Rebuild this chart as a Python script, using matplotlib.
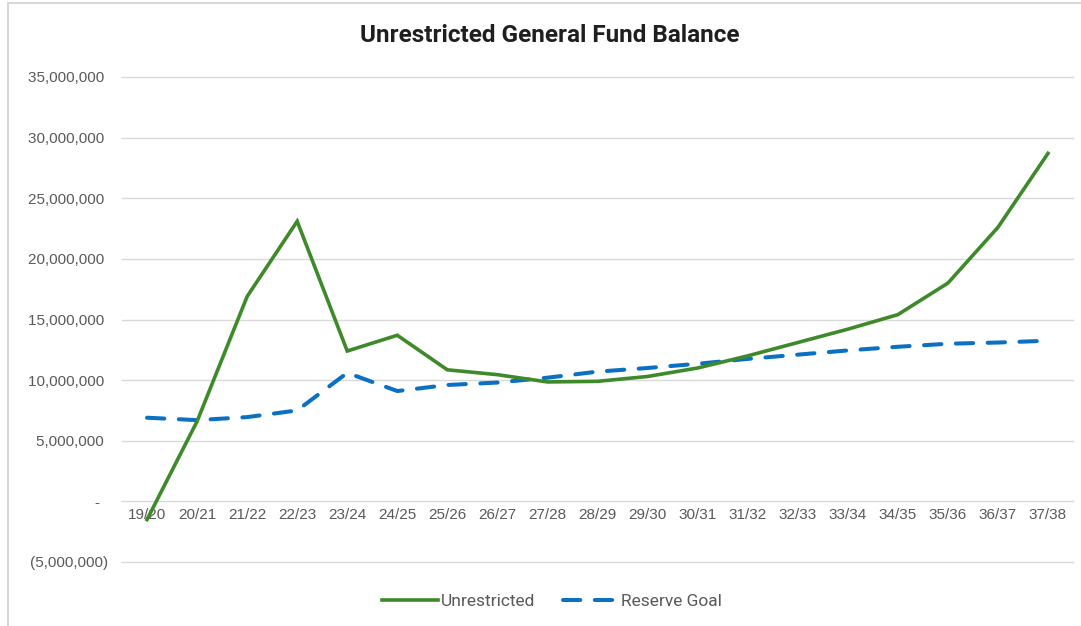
import matplotlib.pyplot as plt
from matplotlib.patches import Rectangle
from matplotlib.ticker import FuncFormatter

# Fiscal years and balances (dollars)
years = ['19/20', '20/21', '21/22', '22/23', '23/24', '24/25', '25/26', '26/27',
         '27/28', '28/29', '29/30', '30/31', '31/32', '32/33', '33/34', '34/35',
         '35/36', '36/37', '37/38']
unrestricted = [-1_500_000, 6_600_000, 16_900_000, 23_100_000, 12_400_000,
                13_700_000, 10_850_000, 10_450_000, 9_850_000, 9_900_000,
                10_300_000, 11_000_000, 12_000_000, 13_100_000, 14_200_000,
                15_400_000, 18_000_000, 22_600_000, 28_700_000]
reserve_goal = [6_900_000, 6_700_000, 6_950_000, 7_500_000, 10_600_000,
                9_100_000, 9_600_000, 9_800_000, 10_200_000, 10_700_000,
                11_000_000, 11_350_000, 11_750_000, 12_100_000, 12_450_000,
                12_750_000, 13_000_000, 13_100_000, 13_250_000]

GREEN = '#3E8A2B'
BLUE = '#0A70C4'
GRID = '#D9D9D9'
TEXT = '#595959'


def accounting(v, pos):
    # Excel accounting style: parentheses for negatives, dash for zero
    if abs(v) < 1:
        return '-  '
    if v < 0:
        return '({:,.0f})'.format(-v)
    return '{:,.0f} '.format(v)


fig = plt.figure(figsize=(10.81, 6.26), dpi=100)
fig.patch.set_facecolor('white')

# light chart-area border (left and top visible)
fig.patches.append(Rectangle((8 / 1081, -0.05), 1.2, 1.05 - 3 / 626,
                             transform=fig.transFigure, fill=False,
                             edgecolor='#D0D0D0', linewidth=1.2))

ax = fig.add_axes([122 / 1081, 64 / 626, (1073 - 122) / 1081, (562 - 77) / 626])

x = list(range(len(years)))
ax.plot(x, reserve_goal, color=BLUE, lw=2.9, dashes=(4.3, 3.6),
        dash_capstyle='round', solid_capstyle='round', label='Reserve Goal', zorder=3)
ax.plot(x, unrestricted, color=GREEN, lw=2.6, solid_joinstyle='miter',
        label='Unrestricted', zorder=4)

ax.set_xlim(-0.5, len(years) - 0.5)
ax.set_ylim(-5_000_000, 35_000_000)
ax.set_yticks(range(-5_000_000, 35_000_001, 5_000_000))
ax.yaxis.set_major_formatter(FuncFormatter(accounting))
ax.grid(axis='y', color=GRID, linewidth=1.0)
ax.set_axisbelow(True)
for gl in ax.get_ygridlines():
    gl.set_clip_on(False)

ax.set_xticks(x)
ax.set_xticklabels(years)
ax.spines['bottom'].set_position(('data', 0))
for s in ax.spines.values():
    s.set_visible(False)
ax.tick_params(axis='both', length=0, labelsize=11, labelcolor=TEXT)
ax.tick_params(axis='x', pad=5)
ax.tick_params(axis='y', pad=10)
for lab in ax.get_xticklabels() + ax.get_yticklabels():
    lab.set_fontfamily('Liberation Sans')

fig.text(550 / 1081, 1 - 36 / 626, 'Unrestricted General Fund Balance',
         ha='center', va='center', fontsize=17.5, fontweight='bold',
         color='#1F1F1F', family='Roboto')

handles, labels = ax.get_legend_handles_labels()
leg = fig.legend(handles[::-1], labels[::-1], loc='center',
                 bbox_to_anchor=(552 / 1081, 1 - 601 / 626), ncol=2,
                 frameon=False, handlelength=3.2, handletextpad=0.15,
                 columnspacing=1.6, prop={'family': 'Roboto', 'size': 12.5})
for t in leg.get_texts():
    t.set_color(TEXT)

plt.savefig('out.png', dpi=100, facecolor='white')
